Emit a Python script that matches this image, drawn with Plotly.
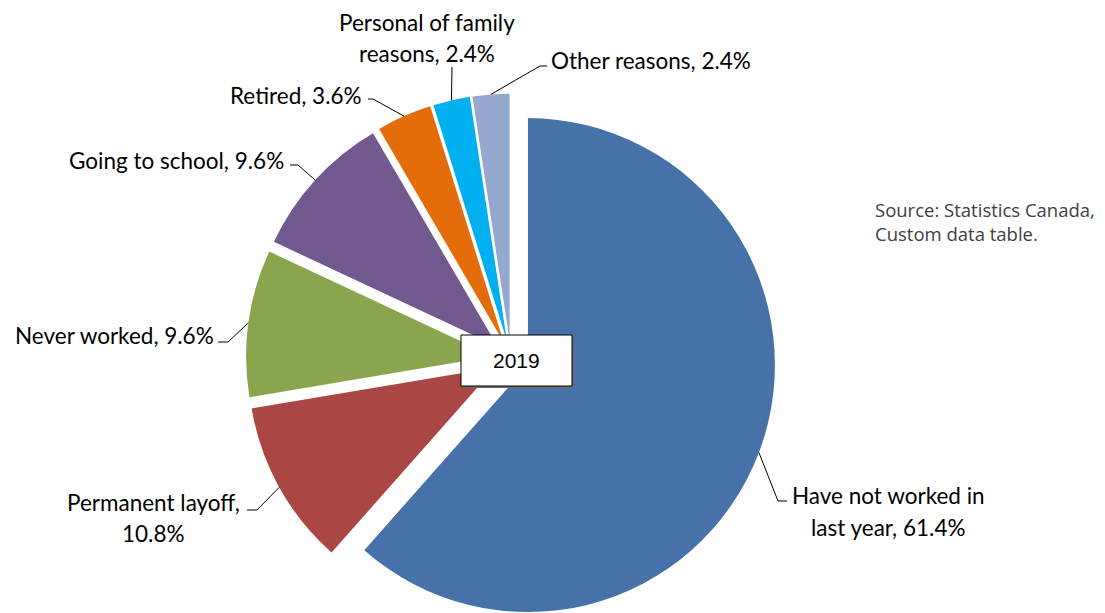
import math
import plotly.graph_objects as go

# Reasons for not being in the labour force, 2019 (percent of total)
categories = [
    "Have not worked in last year",
    "Permanent layoff",
    "Never worked",
    "Going to school",
    "Retired",
    "Personal of family reasons",
    "Other reasons",
]
shares = [61.4, 10.8, 9.6, 9.6, 3.6, 2.4, 2.4]
colors = ["#4672A9", "#AA4644", "#89A54E", "#71588F", "#E46C0A", "#00B0F0", "#94A8D0"]
year_label = "2019"
source_lines = ["Source: Statistics Canada,", "Custom data table."]

W, H = 1105, 626

# pie geometry in pixels
CX, CY = 511.0, 358.7
R = 247.0
PULL = 0.0733
HALF = R * (1 + PULL)


def px(x):
    return x / W


def py(y):
    return 1 - y / H


fig = go.Figure(
    go.Pie(
        labels=categories,
        values=shares,
        sort=False,
        direction="clockwise",
        rotation=0,
        pull=[PULL] * len(shares),
        marker=dict(colors=colors, line=dict(width=0)),
        textinfo="none",
        hoverinfo="label+percent",
        showlegend=False,
        domain=dict(x=[px(CX - HALF), px(CX + HALF)], y=[py(CY + HALF), py(CY - HALF)]),
    )
)

# slice mid-angles -> anchor points on the outer arc of each pulled slice
total = sum(shares)
anchors = []
cum = 0.0
for v in shares:
    ang = math.radians((cum + v / 2) / total * 360)
    cum += v
    dist = R * (1 + PULL)
    anchors.append((CX + dist * math.sin(ang), CY - dist * math.cos(ang)))

# label text lines: (text, x, y, xanchor)
label_specs = [
    [("Have not worked in", 888, 495, "center"), ("last year, 61.4%", 888, 527, "center")],
    [("Permanent layoff,", 153, 502, "center"), ("10.8%", 153, 533, "center")],
    [("Never worked, 9.6%", 216, 335, "right")],
    [("Going to school, 9.6%", 286, 160, "right")],
    [("Retired, 3.6%", 364, 95, "right")],
    [("Personal of family", 427, 22, "center"), ("reasons, 2.4%", 427, 53, "center")],
    [("Other reasons, 2.4%", 549, 60, "left")],
]
# leader elbows: (elbow point, end point next to the text)
leader_specs = [
    ((778, 501), (787, 501)),
    ((257, 510), (247, 510)),
    ((228, 342), (218, 342)),
    ((298, 165), (290, 165)),
    ((373, 99), (368, 99)),
    ((452, 67), (452, 67)),
    ((540, 66), (547, 66)),
]

LABEL_FONT = dict(family="Lato, Open Sans, sans-serif", size=22.5, color="#000000")

annotations = []
for lines in label_specs:
    for text, x, y, xa in lines:
        annotations.append(
            dict(text=text, x=px(x), y=py(y), xref="paper", yref="paper",
                 xanchor=xa, yanchor="middle", showarrow=False, font=LABEL_FONT)
        )

shapes = []
for (ax, ay), ((ex, ey), (tx, ty)) in zip(anchors, leader_specs):
    path = f"M {px(ax)},{py(ay)} L {px(ex)},{py(ey)} L {px(tx)},{py(ty)}"
    shapes.append(dict(type="path", path=path, xref="paper", yref="paper",
                       line=dict(color="#000000", width=1), layer="above"))

# year box with a soft drop shadow
BX0, BY0, BX1, BY1 = 461, 335, 572, 386
shapes.append(dict(type="rect", xref="paper", yref="paper",
                   x0=px(BX0 + 2), x1=px(BX1 + 2), y0=py(BY1 + 2), y1=py(BY0 + 2),
                   fillcolor="#6a6a6a", line=dict(width=0), layer="above"))
shapes.append(dict(type="rect", xref="paper", yref="paper",
                   x0=px(BX0), x1=px(BX1), y0=py(BY1), y1=py(BY0),
                   fillcolor="#ffffff", line=dict(color="#000000", width=1), layer="above"))
annotations.append(
    dict(text=year_label, x=px((BX0 + BX1) / 2), y=py((BY0 + BY1) / 2), xref="paper", yref="paper",
         xanchor="center", yanchor="middle", showarrow=False,
         font=dict(family="Liberation Sans, Arial, sans-serif", size=21, color="#000000"))
)

# source note
for i, line in enumerate(source_lines):
    annotations.append(
        dict(text=line, x=px(873), y=py(209 + 24 * i), xref="paper", yref="paper",
             xanchor="left", yanchor="middle", showarrow=False,
             font=dict(family="Open Sans, sans-serif", size=18.5, color="#404040"))
    )

fig.update_layout(
    width=W,
    height=H,
    margin=dict(l=0, r=0, t=0, b=0),
    paper_bgcolor="#ffffff",
    plot_bgcolor="#ffffff",
    shapes=shapes,
    annotations=annotations,
)

fig.write_html("out.html")
